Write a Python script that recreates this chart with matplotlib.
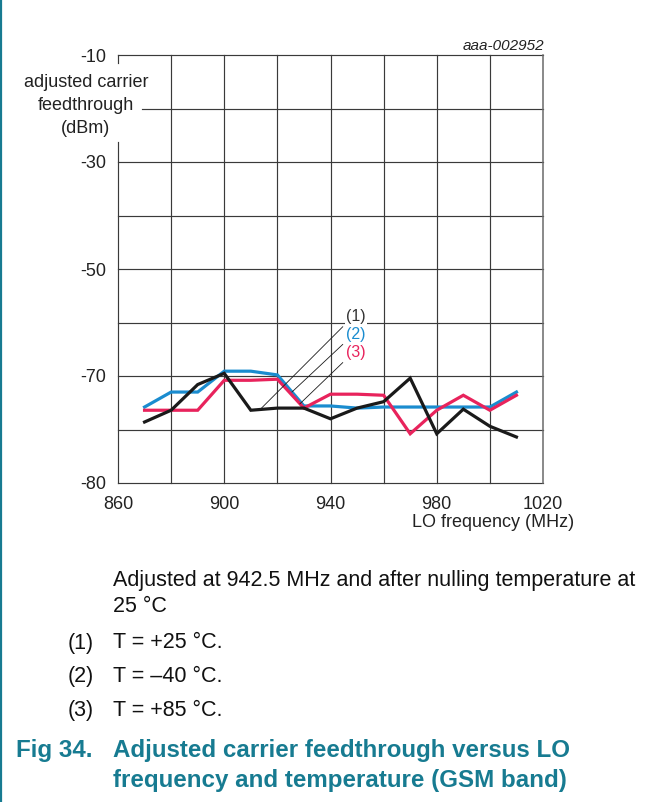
import numpy as np
import matplotlib
matplotlib.use("Agg")
import matplotlib.pyplot as plt
from matplotlib.lines import Line2D

plt.rcParams["font.family"] = ["Liberation Sans", "DejaVu Sans"]

# LO frequency (MHz)
freq = [870, 880, 890, 900, 910, 920, 930, 940, 950, 960, 970, 980, 990, 1000, 1010]
# adjusted carrier feedthrough (dBm)
feed_p25 = [-74.3, -73.2, -70.8, -69.5, -73.2, -73.0, -73.0, -74.0, -73.0, -72.4,
            -70.2, -75.4, -73.1, -74.7, -75.7]
feed_m40 = [-72.9, -71.5, -71.5, -69.1, -69.1, -69.8, -72.8, -72.8, -73.0, -72.9,
            -72.9, -72.9, -72.9, -72.9, -71.5]
feed_p85 = [-73.2, -73.2, -73.2, -70.4, -70.4, -70.3, -73.0, -71.7, -71.7, -71.8,
            -75.4, -73.2, -71.8, -73.2, -71.8]

series_labels = ["(1)", "(2)", "(3)"]
series_colors = ["#1a1a1a", "#1a8ccf", "#e8235c"]
leader_freq = [913.5, 925.5, 928.5]

x_ticks = [860, 900, 940, 980, 1020]
x_grid = [880, 900, 920, 940, 960, 980, 1000]
y_ticks = [-10, -30, -50, -70, -80]
y_grid = [-10, -20, -30, -40, -50, -60, -70, -75, -80]

TEAL = "#177b91"
W, H = 659, 802


def fwd(v):
    v = np.asarray(v, dtype=float)
    return np.where(v >= -70, v, -70 + 2.0 * (v + 70))


def inv(u):
    u = np.asarray(u, dtype=float)
    return np.where(u >= -70, u, -70 + (u + 70) / 2.0)


fig = plt.figure(figsize=(W / 100, H / 100), dpi=100)
fig.patch.set_facecolor("white")
ax = fig.add_axes([118 / W, 1 - 483 / H, 425 / W, 428 / H])
ax.set_yscale("function", functions=(fwd, inv))
ax.set_xlim(860, 1020)
ax.set_ylim(-80, -10)
for s in ax.spines.values():
    s.set_visible(False)

grid_kw = dict(color="#3a3a3a", lw=0.85, clip_on=False, zorder=1)
for yv in y_grid:
    x0 = 868.9 if yv == -20 else 860
    ax.plot([x0, 1020], [yv, yv], **grid_kw)
for xv in x_grid:
    ax.plot([xv, xv], [-80, -10], **grid_kw)
ax.plot([1020, 1020], [-80, -10], color="#6a6a6a", lw=1.1, clip_on=False, zorder=1)
# left axis line, interrupted where the axis title sits
ax.plot([860, 860], [-10, -11.5], **grid_kw)
ax.plot([860, 860], [-26.3, -80], **grid_kw)

ax.set_xticks(x_ticks)
ax.set_yticks(y_ticks)
ax.set_yticks([], minor=True)
ax.set_xticks([], minor=True)
ax.set_yticklabels([str(v) for v in y_ticks])
ax.tick_params(axis="both", length=0, labelsize=13, labelcolor="#222222")
ax.tick_params(axis="y", pad=8.6)
ax.tick_params(axis="x", pad=9.5)

series = [feed_p25, feed_m40, feed_p85]
order = [1, 2, 0]
for i in order:
    ax.plot(freq, series[i], color=series_colors[i], lw=2.3, solid_joinstyle="miter",
            zorder=3 + order.index(i), clip_on=False)

# numbered labels with leader lines to each curve
lab_x = 949.6
lab_y = [-58.9, -62.2, -65.6]
for i in range(3):
    end_y = float(inv(np.interp(leader_freq[i], freq, fwd(series[i]))))
    start_y = lab_y[i] - 1.9
    ax.plot([944.6, leader_freq[i]], [start_y, end_y], color="#1a1a1a", lw=0.6, zorder=6)
    ax.text(lab_x, lab_y[i], series_labels[i], color=series_colors[i] if i else "#333333",
            fontsize=11.5, ha="center", va="center", zorder=7,
            bbox=dict(facecolor="white", edgecolor="none", pad=1.0))


def ftext(x, y, s, **kw):
    fig.text(x / W, 1 - y / H, s, **kw)


ftext(544, 50, "aaa-002952", ha="right", va="baseline", fontsize=11, style="italic",
      color="#222222")
ftext(86, 87, "adjusted carrier", ha="center", va="baseline", fontsize=13, color="#222222")
ftext(86, 110, "feedthrough", ha="center", va="baseline", fontsize=13, color="#222222")
ftext(86, 133, "(dBm)", ha="center", va="baseline", fontsize=13, color="#222222")
ftext(574, 527, "LO frequency (MHz)", ha="right", va="baseline", fontsize=13,
      color="#222222")

note_kw = dict(va="baseline", fontsize=15.5, color="#111111")
ftext(113, 586, "Adjusted at 942.5 MHz and after nulling temperature at", **note_kw)
ftext(113, 612.5, "25 \u00b0C", **note_kw)
ftext(68, 648.5, "(1)", **note_kw)
ftext(113, 648.5, "T = +25 \u00b0C.", **note_kw)
ftext(68, 682, "(2)", **note_kw)
ftext(113, 682, "T = \u201340 \u00b0C.", **note_kw)
ftext(68, 716, "(3)", **note_kw)
ftext(113, 716, "T = +85 \u00b0C.", **note_kw)

title_kw = dict(va="baseline", fontsize=17.4, color=TEAL, fontweight="bold")
ftext(16.5, 757.5, "Fig 34.", **title_kw)
ftext(113, 757.5, "Adjusted carrier feedthrough versus LO", **title_kw)
ftext(113, 786.5, "frequency and temperature (GSM band)", **title_kw)

# page margin rule
fig.add_artist(Line2D([1.2 / W, 1.2 / W], [0, 1], color=TEAL, lw=1.6,
                      transform=fig.transFigure))

fig.savefig("out.png", dpi=100)
